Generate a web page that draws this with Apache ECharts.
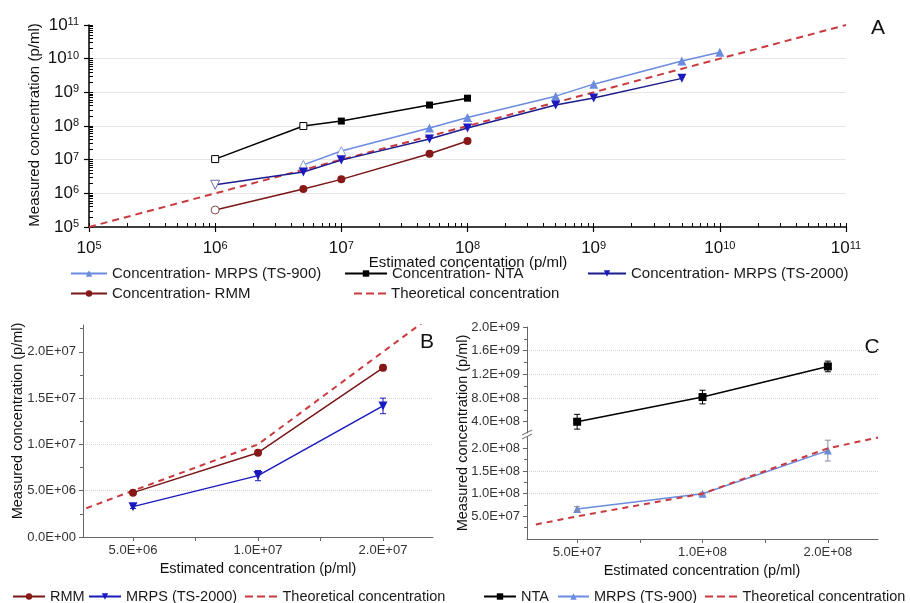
<!DOCTYPE html>
<html>
<head>
<meta charset="utf-8">
<script src="https://cdn.jsdelivr.net/npm/echarts@6/dist/echarts.min.js"></script>
<style>
html,body{margin:0;padding:0;background:#fff;}
#chart{width:910px;height:603px;}
</style>
</head>
<body>
<div id="chart"></div>
<script>
// ---------------- Panel A data (log-log) ----------------
const xA = [1e6, 5e6, 1e7, 5e7, 1e8, 5e8, 1e9, 5e9, 1e10];
const aTS900  = [null, 7.0e6, 1.8e7, 8.7e7, 1.8e8, 7.7e8, 1.75e9, 8.5e9, 1.56e10];
const aNTA    = [1.04e7, 1.0e8, 1.4e8, 4.2e8, 6.7e8, null, null, null, null];
const aTS2000 = [1.8e6, 4.3e6, 9.7e6, 4.1e7, 8.7e7, 4.2e8, 6.8e8, 2.6e9, null];
const aRMM    = [3.2e5, 1.35e6, 2.6e6, 1.5e7, 3.6e7, null, null, null, null];
const aTheoX  = [1e5, 1e11];
const aTheoY  = [1e5, 1e11];
const aDecades = [5, 6, 7, 8, 9, 10, 11];

// ---------------- Panel B data ----------------
const xB = [5e6, 1e7, 2e7];
const bRMM = [4.79e6, 9.11e6, 1.827e7];
const bRMMErr = [0.15e6, 0.2e6, 0.3e6];
const bTS2000 = [3.28e6, 6.63e6, 1.416e7];
const bTS2000Err = [0.2e6, 0.55e6, 0.84e6];
const bTheoX = [3.86e6, 5e6, 1e7, 2e7, 2.48e7];
const bTheoY = [3.1e6, 5e6, 1e7, 2e7, 2.31e7];
const bYTicks = [0, 5e6, 1e7, 1.5e7, 2e7];
const bYMinor = [2.5e6, 7.5e6, 1.25e7, 1.75e7, 2.25e7];

// ---------------- Panel C data ----------------
const xC = [5e7, 1e8, 2e8];
const cNTA = [4.0e8, 8.17e8, 1.334e9];
const cNTAErr = [1.25e8, 1.15e8, 0.9e8];
const cTS900 = [6.62e7, 1.0e8, 1.95e8];
const cTS900Err = [5e6, 3e6, 2.3e7];
const cTheoX = [3.98e7, 5e7, 1e8, 2e8, 2.64e8];
const cTheoY = [3.2e7, 5e7, 1e8, 2e8, 2.24e8];
const cTopTicks = [4e8, 8e8, 1.2e9, 1.6e9, 2e9];
const cTopMinor = [6e8, 1e9, 1.4e9, 1.8e9];
const cBotTicks = [5e7, 1e8, 1.5e8, 2e8];
const cBotMinor = [2.5e7, 7.5e7, 1.25e8, 1.75e8];

// ---------------- helpers ----------------
const FONT = "'Liberation Sans', Arial, Helvetica, sans-serif";
const C_TS900 = '#6a8be0', C_NTA = '#000000', C_TS2000 = '#1a1ac0', C_RMM = '#861818', C_THEO = '#c93a3f';
const L_TS2000 = '#1c1c8c', L_RMM = '#7a1616';
const DASH_ICON = 'path://M0,0h8v2h-8zM12,0h8v2h-8zM24,0h8v2h-8z';

function pairs(xs, ys) { const o = []; xs.forEach((x, i) => { if (ys[i] != null) o.push([x, ys[i]]); }); return o; }
function fmtE(v) {
  if (v === 0) return '0.0E+00';
  v = Number(v.toPrecision(8));
  let e = Math.floor(Math.log10(v));
  let m = v / Math.pow(10, e);
  if (Number(m.toFixed(1)) >= 10) { e += 1; m = v / Math.pow(10, e); }
  return m.toFixed(1) + 'E+' + (e < 10 ? '0' + e : e);
}
const l2 = v => Math.log2(v);
const fromL2 = v => Number(Math.pow(2, v).toPrecision(8));

function lineS(name, data, color, lineColor, symbol, size, xi, yi, extra) {
  return Object.assign({
    type: 'line', name, data, xAxisIndex: xi, yAxisIndex: yi,
    symbol, symbolSize: size, showAllSymbol: true,
    itemStyle: { color }, lineStyle: { color: lineColor, width: 1.5 },
    animation: false, z: 3
  }, extra || {});
}
function hollow(data, n, color) {
  return data.map((d, i) => i < n ? { value: d, itemStyle: { color: '#fff', borderColor: color, borderWidth: 1 } } : d);
}
function errS(name, xs, ys, errs, color, xi, yi, tx) {
  return {
    type: 'custom', name, xAxisIndex: xi, yAxisIndex: yi, animation: false, z: 4,
    data: xs.map((x, i) => [tx(x), ys[i], errs[i]]),
    renderItem: function (params, api) {
      const x = api.value(0), y = api.value(1), e = api.value(2);
      const t = api.coord([x, y + e]), b = api.coord([x, y - e]);
      const w = 3;
      const st = { stroke: color, lineWidth: 1 };
      return { type: 'group', children: [
        { type: 'line', shape: { x1: t[0], y1: t[1], x2: b[0], y2: b[1] }, style: st },
        { type: 'line', shape: { x1: t[0] - w, y1: t[1], x2: t[0] + w, y2: t[1] }, style: st },
        { type: 'line', shape: { x1: b[0] - w, y1: b[1], x2: b[0] + w, y2: b[1] }, style: st }
      ] };
    }
  };
}
function legend(name, left, top, w, fs) {
  return { data: [name], left, top, padding: 0, itemWidth: w, itemHeight: 8, itemGap: 0,
    selectedMode: false, textStyle: { fontSize: fs, color: '#1a1a1a', fontFamily: FONT } };
}
function dashLegend(name, left, top, w, fs) {
  return { data: [{ name, icon: DASH_ICON }], left, top, padding: 0, itemWidth: w, itemHeight: 2, itemGap: 0,
    selectedMode: false, itemStyle: { color: C_THEO }, textStyle: { fontSize: fs, color: '#1a1a1a', fontFamily: FONT } };
}

// minor ticks for log panel (in log10 units)
const aMinor = [];
aDecades.forEach(n => { if (n < 11) for (let k = 1; k <= 9; k++) aMinor.push(n + Math.log10(k)); });
aMinor.push(11);

const greyAxis = { show: true, onZero: false, lineStyle: { color: '#666', width: 1 } };
const greyLbl = { color: '#333', fontSize: 13, fontFamily: FONT };
const dotted = { show: true, showMinLine: false, showMaxLine: false, lineStyle: { color: '#d4d4d4', type: 'dotted', width: 1 } };
const supRich = { b: { fontSize: 17, color: '#111', fontFamily: FONT }, s: { fontSize: 11, color: '#111', fontFamily: FONT, verticalAlign: 'top' } };

const option = {
  backgroundColor: '#fff',
  animation: false,
  grid: [
    { left: 89, right: 64, top: 25, height: 202 },
    { left: 83, right: 477, top: 325, height: 212 },
    { left: 527, right: 32, top: 327, height: 106 },
    { left: 527, right: 32, top: 437, height: 102 }
  ],
  xAxis: [
    { type: 'log', logBase: 10, gridIndex: 0, min: 1e5, max: 1e11, position: 'bottom',
      axisLine: { show: true, onZero: false, lineStyle: { color: '#000', width: 1.5 } },
      axisTick: { show: true, inside: false, length: 5, lineStyle: { color: '#000', width: 1.2 } },
      axisLabel: { margin: 13, formatter: v => '{b|10}{s|' + Math.round(Math.log10(v)) + '}', rich: supRich },
      splitLine: { show: false } },
    { type: 'value', gridIndex: 0, min: 5, max: 11, position: 'bottom',
      axisLine: { show: false, onZero: false }, axisLabel: { show: false }, splitLine: { show: false },
      axisTick: { show: true, inside: true, length: 4, customValues: aMinor, lineStyle: { color: '#000', width: 1 } } },
    { type: 'value', gridIndex: 1, min: l2(xB[0]) - 0.4, max: l2(xB[0]) + 2.4, position: 'bottom',
      axisLine: greyAxis, splitLine: { show: false },
      axisTick: { show: true, length: 4, customValues: [l2(xB[0]), l2(xB[0]) + 0.5, l2(xB[1]), l2(xB[1]) + 0.5, l2(xB[2])], lineStyle: { color: '#666' } },
      axisLabel: Object.assign({ margin: 7, customValues: xB.map(l2), formatter: v => fmtE(fromL2(v)) }, greyLbl) },
    { type: 'value', gridIndex: 2, min: l2(xC[0]) - 0.4, max: l2(xC[0]) + 2.4, show: false },
    { type: 'value', gridIndex: 3, min: l2(xC[0]) - 0.4, max: l2(xC[0]) + 2.4, position: 'bottom',
      axisLine: greyAxis, splitLine: { show: false },
      axisTick: { show: true, length: 4, customValues: [l2(xC[0]), l2(xC[0]) + 0.5, l2(xC[1]), l2(xC[1]) + 0.5, l2(xC[2])], lineStyle: { color: '#666' } },
      axisLabel: Object.assign({ margin: 7, customValues: xC.map(l2), formatter: v => fmtE(fromL2(v)) }, greyLbl) }
  ],
  yAxis: [
    { type: 'log', logBase: 10, gridIndex: 0, min: 1e5, max: 1e11, position: 'left',
      axisLine: { show: true, onZero: false, lineStyle: { color: '#000', width: 1.5 } },
      axisTick: { show: true, inside: false, length: 5, lineStyle: { color: '#000', width: 1.2 } },
      axisLabel: { margin: 10, formatter: v => '{b|10}{s|' + Math.round(Math.log10(v)) + '}', rich: supRich },
      splitLine: { show: true, showMinLine: false, showMaxLine: false, lineStyle: { color: '#e6e6e6', width: 1 } } },
    { type: 'value', gridIndex: 0, min: 5, max: 11, position: 'left',
      axisLine: { show: false, onZero: false }, axisLabel: { show: false }, splitLine: { show: false },
      axisTick: { show: true, inside: true, length: 4, customValues: aMinor, lineStyle: { color: '#000', width: 1 } } },
    { type: 'value', gridIndex: 1, min: 0, max: 2.29e7, position: 'left',
      axisLine: greyAxis, splitLine: dotted,
      axisTick: { show: true, length: 4, customValues: bYTicks, lineStyle: { color: '#666' } },
      axisLabel: Object.assign({ margin: 7, customValues: bYTicks, formatter: v => fmtE(v) }, greyLbl) },
    { type: 'value', gridIndex: 1, min: 0, max: 2.29e7, position: 'left',
      axisLine: { show: false, onZero: false }, axisLabel: { show: false }, splitLine: { show: false },
      axisTick: { show: true, length: 3, customValues: bYMinor, lineStyle: { color: '#666' } } },
    { type: 'value', gridIndex: 2, min: 2.1e8, max: 2.0e9, position: 'left',
      axisLine: greyAxis, splitLine: dotted,
      axisTick: { show: true, length: 4, customValues: cTopTicks, lineStyle: { color: '#666' } },
      axisLabel: Object.assign({ margin: 7, customValues: cTopTicks, formatter: v => fmtE(v) }, greyLbl) },
    { type: 'value', gridIndex: 2, min: 2.1e8, max: 2.0e9, position: 'left',
      axisLine: { show: false, onZero: false }, axisLabel: { show: false }, splitLine: { show: false },
      axisTick: { show: true, length: 3, customValues: cTopMinor, lineStyle: { color: '#666' } } },
    { type: 'value', gridIndex: 3, min: 0, max: 2.25e8, position: 'left',
      axisLine: greyAxis, splitLine: dotted,
      axisTick: { show: true, length: 4, customValues: cBotTicks, lineStyle: { color: '#666' } },
      axisLabel: Object.assign({ margin: 7, customValues: cBotTicks, formatter: v => fmtE(v) }, greyLbl) },
    { type: 'value', gridIndex: 3, min: 0, max: 2.25e8, position: 'left',
      axisLine: { show: false, onZero: false }, axisLabel: { show: false }, splitLine: { show: false },
      axisTick: { show: true, length: 3, customValues: cBotMinor, lineStyle: { color: '#666' } } }
  ],
  legend: [
    legend('Concentration- MRPS (TS-900)', 70, 266, 36, 15),
    legend('Concentration- NTA', 344, 266, 42, 15),
    legend('Concentration- MRPS (TS-2000)', 587, 266, 38, 15),
    legend('Concentration- RMM', 70, 286, 36, 15),
    dashLegend('Theoretical concentration', 354, 286, 32, 15),
    legend('RMM', 12, 589, 32, 14.5),
    legend('MRPS (TS-2000)', 88, 589, 32, 14.5),
    dashLegend('Theoretical concentration', 245, 589, 33, 14.5),
    legend('NTA', 483, 589, 32, 14.5),
    legend('MRPS (TS-900)', 557, 589, 31, 14.5),
    dashLegend('Theoretical concentration', 705, 589, 33, 14.5)
  ],
  series: [
    // Panel A
    lineS('Theoretical concentration', pairs(aTheoX, aTheoY), C_THEO, C_THEO, 'none', 0, 0, 0,
      { lineStyle: { color: C_THEO, width: 2, type: [7, 5] }, z: 2 }),
    lineS('Concentration- MRPS (TS-900)', hollow(pairs(xA, aTS900), 2, '#8a9ed8'), C_TS900, C_TS900, 'triangle', 9, 0, 0),
    lineS('Concentration- NTA', hollow(pairs(xA, aNTA), 2, '#000'), C_NTA, C_NTA, 'rect', 7, 0, 0),
    lineS('Concentration- MRPS (TS-2000)', hollow(pairs(xA, aTS2000), 1, '#6b6bb0'), C_TS2000, L_TS2000, 'triangle', 9, 0, 0, { symbolRotate: 180 }),
    lineS('Concentration- RMM', hollow(pairs(xA, aRMM), 1, '#8a4a4a'), C_RMM, L_RMM, 'circle', 8, 0, 0),
    // Panel B
    lineS('Theoretical concentration', bTheoX.map((x, i) => [l2(x), bTheoY[i]]), C_THEO, C_THEO, 'none', 0, 2, 2,
      { lineStyle: { color: C_THEO, width: 2, type: [6, 5] }, z: 2 }),
    lineS('RMM', xB.map((x, i) => [l2(x), bRMM[i]]), C_RMM, L_RMM, 'circle', 8, 2, 2),
    lineS('MRPS (TS-2000)', xB.map((x, i) => [l2(x), bTS2000[i]]), C_TS2000, C_TS2000, 'triangle', 9, 2, 2, { symbolRotate: 180 }),
    errS('errB1', xB, bRMM, bRMMErr, C_RMM, 2, 2, l2),
    errS('errB2', xB, bTS2000, bTS2000Err, C_TS2000, 2, 2, l2),
    // Panel C
    lineS('NTA', xC.map((x, i) => [l2(x), cNTA[i]]), C_NTA, C_NTA, 'rect', 8, 3, 4),
    errS('errC1', xC, cNTA, cNTAErr, C_NTA, 3, 4, l2),
    lineS('Theoretical concentration', cTheoX.map((x, i) => [l2(x), cTheoY[i]]), C_THEO, C_THEO, 'none', 0, 4, 6,
      { lineStyle: { color: C_THEO, width: 2, type: [6, 5] }, z: 4 }),
    lineS('MRPS (TS-900)', xC.map((x, i) => [l2(x), cTS900[i]]), C_TS900, C_TS900, 'triangle', 8, 4, 6),
    errS('errC2', xC, cTS900, cTS900Err, '#8a8aa0', 4, 6, l2)
  ],
  graphic: [
    { type: 'text', x: 878, y: 28, style: { text: 'A', fontSize: 21, fill: '#111', fontFamily: FONT, align: 'center', verticalAlign: 'middle' } },
    { type: 'text', x: 427, y: 342, style: { text: 'B', fontSize: 21, fill: '#111', fontFamily: FONT, align: 'center', verticalAlign: 'middle' } },
    { type: 'text', x: 872, y: 347, style: { text: 'C', fontSize: 21, fill: '#111', fontFamily: FONT, align: 'center', verticalAlign: 'middle' } },
    { type: 'text', x: 468, y: 263, style: { text: 'Estimated concentation (p/ml)', fontSize: 15, fill: '#111', fontFamily: FONT, align: 'center', verticalAlign: 'middle' } },
    { type: 'text', x: 35, y: 125, rotation: Math.PI / 2, style: { text: 'Measured concentration (p/ml)', fontSize: 15, fill: '#111', fontFamily: FONT, align: 'center', verticalAlign: 'middle' } },
    { type: 'text', x: 258, y: 569, style: { text: 'Estimated concentration (p/ml)', fontSize: 14.5, fill: '#111', fontFamily: FONT, align: 'center', verticalAlign: 'middle' } },
    { type: 'text', x: 18, y: 421, rotation: Math.PI / 2, style: { text: 'Measured concentration (p/ml)', fontSize: 14.5, fill: '#111', fontFamily: FONT, align: 'center', verticalAlign: 'middle' } },
    { type: 'text', x: 702, y: 571, style: { text: 'Estimated concentration (p/ml)', fontSize: 14.5, fill: '#111', fontFamily: FONT, align: 'center', verticalAlign: 'middle' } },
    { type: 'text', x: 463, y: 433, rotation: Math.PI / 2, style: { text: 'Measured concentration (p/ml)', fontSize: 14.5, fill: '#111', fontFamily: FONT, align: 'center', verticalAlign: 'middle' } },
    { type: 'line', shape: { x1: 522, y1: 435, x2: 532, y2: 430 }, style: { stroke: '#666', lineWidth: 1 } },
    { type: 'line', shape: { x1: 522, y1: 439, x2: 532, y2: 434 }, style: { stroke: '#666', lineWidth: 1 } }
  ]
};

const chart = echarts.init(document.getElementById('chart'), null, { renderer: 'canvas' });
chart.setOption(option);
</script>
</body>
</html>
